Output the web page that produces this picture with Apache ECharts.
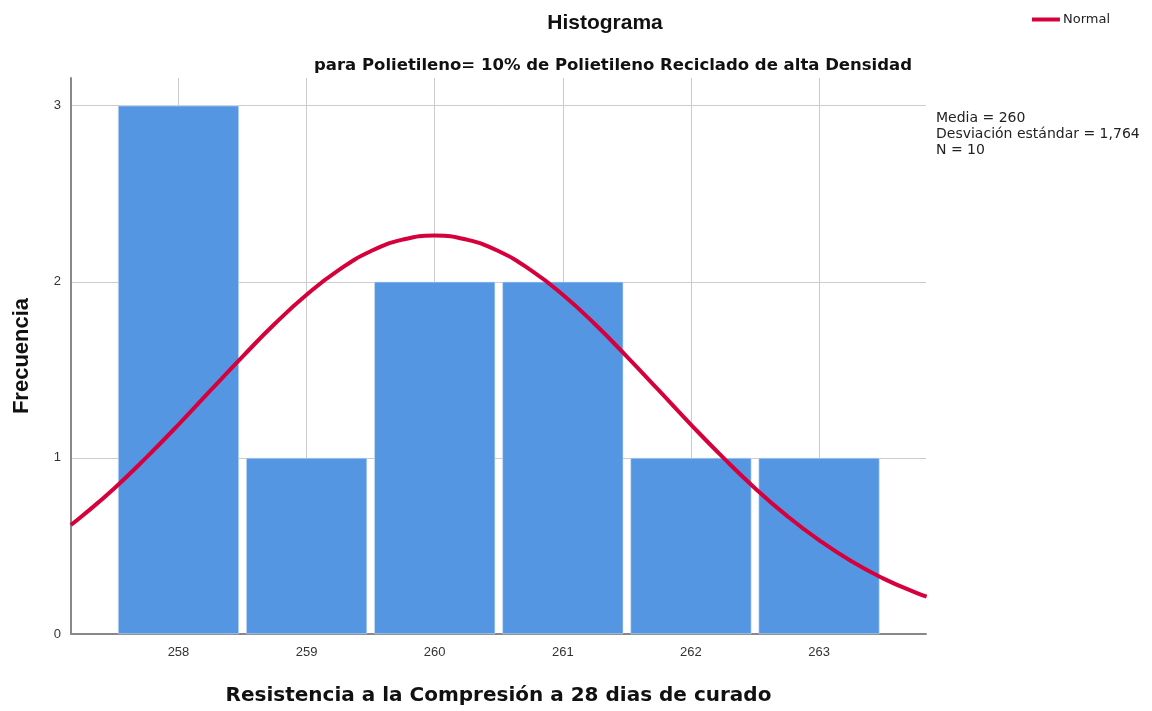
<!DOCTYPE html>
<html>
<head>
<meta charset="utf-8">
<script src="https://cdn.jsdelivr.net/npm/echarts@6/dist/echarts.min.js"></script>
<style>
  html, body { margin: 0; padding: 0; background: #ffffff; }
  #chart { width: 1152px; height: 711px; }
</style>
</head>
<body>
<div id="chart"></div>
<script>
// Histogram bins (bin centres) and counts
const binCenters = [258, 259, 260, 261, 262, 263];
const counts = [3, 1, 2, 2, 1, 1];

// Fitted normal curve, sampled along the axis (x, expected frequency)
const curveX = [257.16, 257.25, 257.5, 257.75, 258, 258.25, 258.5, 258.75, 259, 259.25, 259.5, 259.75,
                260, 260.25, 260.5, 260.75, 261, 261.25, 261.5, 261.75, 262, 262.25, 262.5, 262.75,
                263, 263.25, 263.5, 263.75, 263.84];
const curveY = [0.619, 0.671, 0.828, 1.003, 1.189, 1.383, 1.575, 1.760, 1.926, 2.066, 2.173, 2.239,
                2.262, 2.239, 2.173, 2.066, 1.926, 1.760, 1.575, 1.383, 1.189, 1.003, 0.828, 0.671,
                0.533, 0.414, 0.316, 0.236, 0.212];

// Tick labels
const xTicks = [258, 259, 260, 261, 262, 263];
const yTicks = [0, 1, 2, 3];

// Summary statistics
const statLines = ['Media = 260', 'Desviación estándar = 1,764', 'N = 10'];

const titleText = 'Histograma';
const subtitleText = 'para Polietileno= 10% de Polietileno Reciclado de alta Densidad';
const xName = 'Resistencia a la Compresión a 28 dias de curado';
const yName = 'Frecuencia';

const FONT = '"Liberation Sans", Arial, sans-serif';
const WIDE = '"DejaVu Sans", "Liberation Sans", sans-serif';
const barColor = '#5596e3';
const curveColor = '#d6003c';
const gridColor = '#cccccc';

const chart = echarts.init(document.getElementById('chart'), null, { renderer: 'canvas' });

chart.setOption({
  backgroundColor: '#ffffff',
  animation: false,
  title: [
    {
      text: titleText,
      left: 600, top: 8, textAlign: 'center',
      textStyle: { fontFamily: FONT, fontSize: 21, fontWeight: 'bold', color: '#111111' }
    },
    {
      text: subtitleText,
      left: 608, top: 52, textAlign: 'center',
      textStyle: { fontFamily: WIDE, fontSize: 16.5, fontWeight: 'bold', color: '#111111' }
    }
  ],
  legend: {
    right: 37, top: 8,
    itemWidth: 28, itemHeight: 4, itemGap: 4,
    icon: 'rect',
    data: [{ name: 'Normal' }],
    textStyle: { fontFamily: WIDE, fontSize: 13, color: '#222222', padding: [0, 0, 0, -2] }
  },
  grid: { left: 71, right: 226, top: 78, bottom: 77, containLabel: false },
  xAxis: {
    type: 'value',
    min: 257.161, max: 263.835,
    name: xName,
    nameLocation: 'middle',
    nameGap: 52,
    nameTextStyle: { fontFamily: WIDE, fontSize: 20, fontWeight: 'bold', color: '#111111' },
    axisLine: { show: true, lineStyle: { color: '#888888', width: 2 } },
    axisTick: { show: false, customValues: xTicks },
    axisLabel: { customValues: xTicks, margin: 12, fontFamily: FONT, fontSize: 13, color: '#333333' },
    splitLine: { show: true, lineStyle: { color: gridColor, width: 1 } }
  },
  yAxis: {
    type: 'value',
    min: 0, max: 3.157,
    name: yName,
    nameLocation: 'middle',
    nameGap: 38,
    nameTextStyle: { fontFamily: FONT, fontSize: 22, fontWeight: 'bold', color: '#111111' },
    axisLine: { show: true, lineStyle: { color: '#888888', width: 2 } },
    axisTick: { show: false, customValues: yTicks },
    axisLabel: { customValues: yTicks, margin: 10, fontFamily: FONT, fontSize: 13, color: '#333333' },
    splitLine: { show: true, lineStyle: { color: gridColor, width: 1 } }
  },
  series: [
    {
      type: 'bar',
      name: 'Frecuencia',
      data: binCenters.map((c, i) => [c, counts[i]]),
      barWidth: 121,
      itemStyle: { color: barColor, borderColor: '#cfe0f7', borderWidth: 0.6 },
      z: 2
    },
    {
      type: 'line',
      name: 'Normal',
      data: curveX.map((x, i) => [x, curveY[i]]),
      smooth: true,
      showSymbol: false,
      symbol: 'none',
      clip: true,
      lineStyle: { color: curveColor, width: 4 },
      itemStyle: { color: curveColor },
      z: 3
    }
  ],
  graphic: [
    {
      type: 'text',
      left: 936, top: 110,
      style: {
        text: statLines.join('\n'),
        fontFamily: WIDE, fontSize: 14, lineHeight: 16, fill: '#222222'
      }
    }
  ]
});
</script>
</body>
</html>
